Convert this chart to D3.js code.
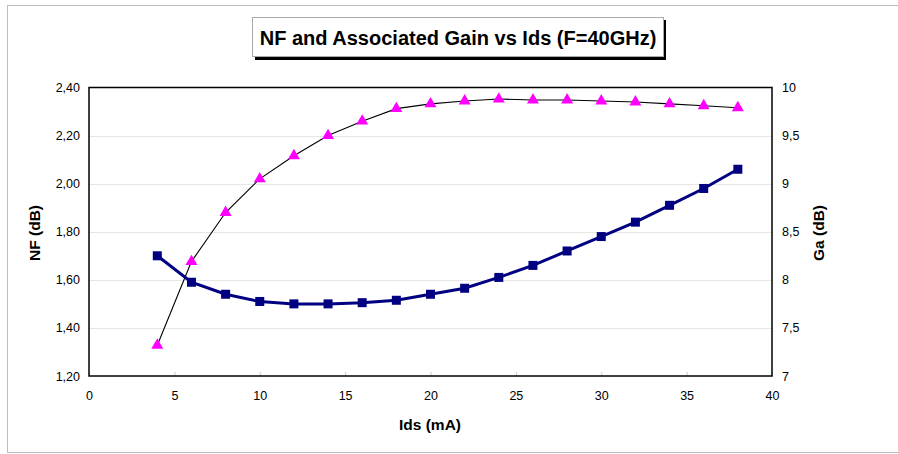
<!DOCTYPE html>
<html>
<head>
<meta charset="utf-8">
<script src="https://cdn.jsdelivr.net/npm/d3@7"></script>
<style>
  body { margin: 0; background: #fff; }
  text { font-family: "Liberation Sans", Arial, sans-serif; fill: #000; }
</style>
</head>
<body>
<svg id="chart" width="898" height="454"></svg>
<script>
// data
var ids = [4, 6, 8, 10, 12, 14, 16, 18, 20, 22, 24, 26, 28, 30, 32, 34, 36, 38];
var nf  = [1.70, 1.59, 1.54, 1.51, 1.50, 1.50, 1.505, 1.515, 1.54, 1.565, 1.61, 1.66, 1.72, 1.78, 1.84, 1.91, 1.98, 2.06];
var ga  = [7.32, 8.19, 8.70, 9.05, 9.29, 9.50, 9.65, 9.78, 9.83, 9.86, 9.88, 9.87, 9.87, 9.86, 9.85, 9.83, 9.81, 9.79];
var xTicks  = [0, 5, 10, 15, 20, 25, 30, 35, 40];
var nfTicks = [1.2, 1.4, 1.6, 1.8, 2.0, 2.2, 2.4];
var gaTicks = [7, 7.5, 8, 8.5, 9, 9.5, 10];

var svg = d3.select('#chart');
var plot = {left: 89, top: 87.5, right: 772, bottom: 376};

var x = d3.scaleLinear().domain([0, 40]).range([plot.left, plot.right]);
var yL = d3.scaleLinear().domain([1.2, 2.4]).range([plot.bottom, plot.top]);
var yR = d3.scaleLinear().domain([7, 10]).range([plot.bottom, plot.top]);

var comma = function(d, n) { return d.toFixed(n).replace('.', ','); };

// outer frame
svg.append('rect')
   .attr('x', 7.5).attr('y', 5.5).attr('width', 900).attr('height', 447)
   .style('fill', 'none').style('stroke', '#bdbdbd');

// title box with shadow
svg.append('rect').attr('x', 255).attr('y', 20).attr('width', 411).attr('height', 40).style('fill', '#000');
svg.append('rect').attr('x', 252.5).attr('y', 17.5).attr('width', 411).attr('height', 39)
   .style('fill', '#fff').style('stroke', '#aaa');
svg.append('text').attr('x', 458).attr('y', 44.5).attr('text-anchor', 'middle')
   .style('font-size', '20px').style('font-weight', 'bold')
   .text('NF and Associated Gain vs Ids (F=40GHz)');

// grid
svg.append('g').selectAll('line').data(nfTicks.slice(1, -1)).enter()
   .append('line')
   .attr('x1', plot.left).attr('x2', plot.right)
   .attr('y1', function(d) { return Math.round(yL(d)) + 0.5; })
   .attr('y2', function(d) { return Math.round(yL(d)) + 0.5; })
   .style('stroke', '#e6e6e6');

// axes
var axL = svg.append('g').attr('transform', 'translate(' + plot.left + ',0)')
   .call(d3.axisLeft(yL).tickValues(nfTicks).tickSize(0).tickPadding(9).tickFormat(function(d) { return comma(d, 2); }));
var axR = svg.append('g').attr('transform', 'translate(' + plot.right + ',0)')
   .call(d3.axisRight(yR).tickValues(gaTicks).tickSize(0).tickPadding(10)
   .tickFormat(function(d) { return d % 1 ? comma(d, 1) : d; }));
var axB = svg.append('g').attr('transform', 'translate(0,' + plot.bottom + ')')
   .call(d3.axisBottom(x).tickValues(xTicks).tickSize(-4).tickPadding(15));
[axL, axR, axB].forEach(function(a) {
  a.select('.domain').remove();
  a.selectAll('text').style('font-size', '12.5px').style('font-family', '"Liberation Sans", Arial, sans-serif');
  a.selectAll('line').style('stroke', '#c8c8c8');
});

// plot border
svg.append('rect')
   .attr('x', plot.left).attr('y', plot.top)
   .attr('width', plot.right - plot.left).attr('height', plot.bottom - plot.top)
   .style('fill', 'none').style('stroke', '#000').style('stroke-width', 1.5);

// axis titles
svg.append('text').attr('transform', 'translate(40,233) rotate(-90)').attr('text-anchor', 'middle')
   .style('font-size', '15.5px').style('font-weight', 'bold').text('NF (dB)');
svg.append('text').attr('transform', 'translate(824,233) rotate(-90)').attr('text-anchor', 'middle')
   .style('font-size', '15.5px').style('font-weight', 'bold').text('Ga (dB)');
svg.append('text').attr('x', 430).attr('y', 430).attr('text-anchor', 'middle')
   .style('font-size', '15.5px').style('font-weight', 'bold').text('Ids (mA)');

// Ga series
var gaLine = d3.line().x(function(d, i) { return x(ids[i]); }).y(function(d) { return yR(d); });
svg.append('path').datum(ga).attr('d', gaLine)
   .style('fill', 'none').style('stroke', '#000').style('stroke-width', 1.1);
svg.append('g').selectAll('path').data(ga).enter().append('path')
   .attr('d', d3.symbol().type(d3.symbolTriangle).size(62))
   .attr('transform', function(d, i) { return 'translate(' + x(ids[i]) + ',' + yR(d) + ')'; })
   .style('fill', '#ff00ff');

// NF series
var nfLine = d3.line().x(function(d, i) { return x(ids[i]); }).y(function(d) { return yL(d); });
svg.append('path').datum(nf).attr('d', nfLine)
   .style('fill', 'none').style('stroke', '#000080').style('stroke-width', 3);
svg.append('g').selectAll('rect').data(nf).enter().append('rect')
   .attr('x', function(d, i) { return x(ids[i]) - 4.5; })
   .attr('y', function(d) { return yL(d) - 4.5; })
   .attr('width', 9).attr('height', 9)
   .style('fill', '#000080');
</script>
</body>
</html>
